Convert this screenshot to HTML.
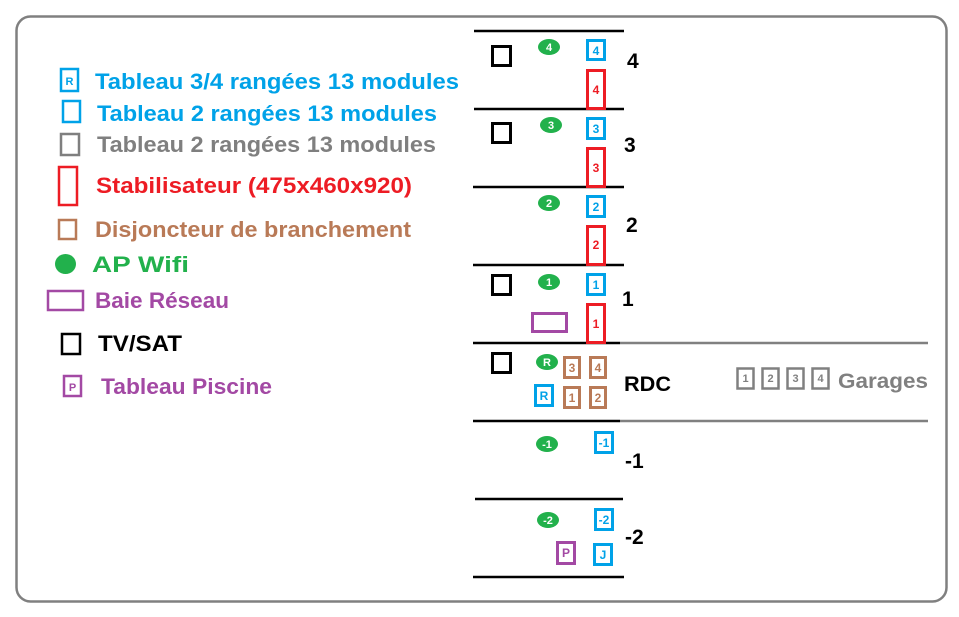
<!DOCTYPE html>
<html><head><meta charset="utf-8"><style>
html,body{margin:0;padding:0;background:#fff}
svg{display:block}
text{font-family:"Liberation Sans",sans-serif;font-weight:bold}
</style></head><body>
<svg width="959" height="617" viewBox="0 0 959 617" xmlns="http://www.w3.org/2000/svg">
<rect x="16.5" y="16.5" width="930" height="585" rx="14" fill="#fff" stroke="#808080" stroke-width="2.5"/>

<!-- Legend -->
<g stroke-width="2.5" fill="none">
<rect x="61" y="69" width="17" height="22" stroke="#00a2e8"/>
<rect x="63" y="101" width="17" height="21" stroke="#00a2e8"/>
<rect x="61" y="134" width="18" height="21" stroke="#7f7f7f"/>
<rect x="59" y="167" width="18" height="38" stroke="#ed1c24"/>
<rect x="59" y="220" width="17" height="19" stroke="#b97a57"/>
<rect x="48" y="291" width="35" height="19" stroke="#a349a4"/>
<rect x="62" y="334" width="18" height="20" stroke="#000"/>
<rect x="64" y="376" width="17" height="20" stroke="#a349a4"/>
</g>
<ellipse cx="65.5" cy="264" rx="10.5" ry="10" fill="#22b14c"/>
<text x="69.5" y="85" font-size="11" fill="#00a2e8" text-anchor="middle">R</text>
<text x="72.5" y="391" font-size="11" fill="#a349a4" text-anchor="middle">P</text>

<g font-size="22">
<text x="95" y="89" fill="#00a2e8" textLength="364" lengthAdjust="spacingAndGlyphs">Tableau 3/4 rangées 13 modules</text>
<text x="97" y="121" fill="#00a2e8" textLength="340" lengthAdjust="spacingAndGlyphs">Tableau 2 rangées 13 modules</text>
<text x="97" y="152" fill="#7f7f7f" textLength="339" lengthAdjust="spacingAndGlyphs">Tableau 2 rangées 13 modules</text>
<text x="96" y="193" fill="#ed1c24" textLength="316" lengthAdjust="spacingAndGlyphs">Stabilisateur (475x460x920)</text>
<text x="95" y="237" fill="#b97a57" textLength="316" lengthAdjust="spacingAndGlyphs">Disjoncteur de branchement</text>
<text x="92" y="272" fill="#22b14c" textLength="97" lengthAdjust="spacingAndGlyphs">AP Wifi</text>
<text x="95" y="308" fill="#a349a4" textLength="134" lengthAdjust="spacingAndGlyphs">Baie Réseau</text>
<text x="98" y="351" fill="#000" textLength="84" lengthAdjust="spacingAndGlyphs">TV/SAT</text>
<text x="101" y="394" fill="#a349a4" textLength="171" lengthAdjust="spacingAndGlyphs">Tableau Piscine</text>
</g>

<!-- Floor lines -->
<g stroke="#808080" stroke-width="2.5">
<line x1="620" y1="343" x2="928" y2="343"/>
<line x1="620" y1="421" x2="928" y2="421"/>
</g>
<g stroke="#000" stroke-width="2.5">
<line x1="474" y1="31" x2="624" y2="31"/>
<line x1="474" y1="109" x2="624" y2="109"/>
<line x1="473" y1="187" x2="624" y2="187"/>
<line x1="473" y1="265" x2="624" y2="265"/>
<line x1="473" y1="343" x2="620" y2="343"/>
<line x1="473" y1="421" x2="620" y2="421"/>
<line x1="475" y1="499" x2="623" y2="499"/>
<line x1="473" y1="577" x2="624" y2="577"/>
</g>

<!-- Black TV squares -->
<g fill="none" stroke="#000" stroke-width="3">
<rect x="492.5" y="46.5" width="18" height="19"/>
<rect x="492.5" y="123.5" width="18" height="19"/>
<rect x="492.5" y="275.5" width="18" height="19"/>
<rect x="492.5" y="353.5" width="18" height="19"/>
</g>

<!-- Green APs -->
<g fill="#22b14c">
<ellipse cx="549" cy="47" rx="11" ry="8"/>
<ellipse cx="551" cy="125" rx="11" ry="8"/>
<ellipse cx="549" cy="203" rx="11" ry="8"/>
<ellipse cx="549" cy="282" rx="11" ry="8"/>
<ellipse cx="547" cy="362" rx="11" ry="8"/>
<ellipse cx="547" cy="444" rx="11" ry="8"/>
<ellipse cx="548" cy="520" rx="11" ry="8"/>
</g>
<g font-size="11" fill="#fff" text-anchor="middle">
<text x="549" y="51">4</text>
<text x="551" y="129">3</text>
<text x="549" y="207">2</text>
<text x="549" y="286">1</text>
<text x="547" y="366">R</text>
<text x="547" y="448">-1</text>
<text x="548" y="524">-2</text>
</g>

<!-- Blue boxes -->
<g fill="none" stroke="#00a2e8" stroke-width="3">
<rect x="587.5" y="40.5" width="17" height="19"/>
<rect x="587.5" y="118.5" width="17" height="20"/>
<rect x="587.5" y="196.5" width="17" height="20"/>
<rect x="587.5" y="274.5" width="17" height="20"/>
<rect x="535.5" y="385.5" width="17" height="20"/>
<rect x="595.5" y="432.5" width="17" height="20"/>
<rect x="595.5" y="509.5" width="17" height="20"/>
<rect x="594.5" y="544.5" width="17" height="20"/>
</g>
<g font-size="12" fill="#00a2e8" text-anchor="middle">
<text x="596" y="55">4</text>
<text x="596" y="133">3</text>
<text x="596" y="211">2</text>
<text x="596" y="289">1</text>
<text x="544" y="400">R</text>
<text x="604" y="447">-1</text>
<text x="604" y="524">-2</text>
<text x="603" y="559">J</text>
</g>

<!-- Red stabilisers -->
<g fill="none" stroke="#ed1c24" stroke-width="3">
<rect x="587.5" y="70.5" width="17" height="38"/>
<rect x="587.5" y="148.5" width="17" height="38"/>
<rect x="587.5" y="226.5" width="17" height="38"/>
<rect x="587.5" y="304.5" width="17" height="38"/>
</g>
<g font-size="12" fill="#ed1c24" text-anchor="middle">
<text x="596" y="94">4</text>
<text x="596" y="172">3</text>
<text x="596" y="249">2</text>
<text x="596" y="328">1</text>
</g>

<!-- Purple -->
<g fill="none" stroke="#a349a4" stroke-width="3">
<rect x="532.5" y="313.5" width="34" height="18"/>
<rect x="557.5" y="542.5" width="17" height="21"/>
</g>
<text x="566" y="557" font-size="12" fill="#a349a4" text-anchor="middle">P</text>

<!-- Brown -->
<g fill="none" stroke="#b97a57" stroke-width="3">
<rect x="564.5" y="357.5" width="15" height="20"/>
<rect x="590.5" y="357.5" width="15" height="20"/>
<rect x="564.5" y="387.5" width="15" height="20"/>
<rect x="590.5" y="387.5" width="15" height="20"/>
</g>
<g font-size="12" fill="#b97a57" text-anchor="middle">
<text x="572" y="372">3</text>
<text x="598" y="372">4</text>
<text x="572" y="402">1</text>
<text x="598" y="402">2</text>
</g>

<!-- Floor labels -->
<g font-size="21" fill="#000">
<text x="627" y="68">4</text>
<text x="624" y="152">3</text>
<text x="626" y="232">2</text>
<text x="622" y="306">1</text>
<text x="624" y="391" textLength="47" lengthAdjust="spacingAndGlyphs">RDC</text>
<text x="625" y="468">-1</text>
<text x="625" y="544">-2</text>
</g>

<!-- Garages -->
<g fill="none" stroke="#808080" stroke-width="2.5">
<rect x="737.5" y="368.5" width="16" height="20"/>
<rect x="762.5" y="368.5" width="16" height="20"/>
<rect x="787.5" y="368.5" width="16" height="20"/>
<rect x="812.5" y="368.5" width="16" height="20"/>
</g>
<g font-size="11" fill="#808080" text-anchor="middle">
<text x="745.5" y="382">1</text>
<text x="770.5" y="382">2</text>
<text x="795.5" y="382">3</text>
<text x="820.5" y="382">4</text>
</g>
<text x="838" y="388" font-size="21" fill="#808080" textLength="90" lengthAdjust="spacingAndGlyphs">Garages</text>
</svg>
</body></html>
